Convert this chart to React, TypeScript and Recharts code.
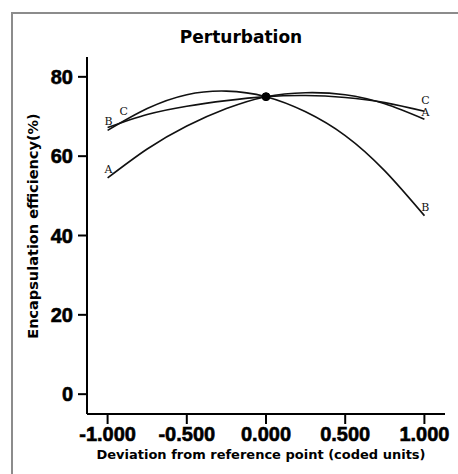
import React from 'react';
import {
  LineChart, Line, XAxis, YAxis, ReferenceDot, Customized,
} from 'recharts';

const xValues = [-1, -0.75, -0.5, -0.25, 0, 0.25, 0.5, 0.75, 1];
const seriesA = [54.5, 61.8, 67.6, 72.0, 75, 76.0, 75.5, 73.2, 69.3];
const seriesB = [66.5, 72.0, 75.5, 76.4, 75, 71.2, 65.2, 56.3, 45.0];
const seriesC = [67.2, 70.5, 72.6, 74.0, 75, 75.3, 74.8, 73.5, 71.3];
const xTicks = [-1, -0.5, 0, 0.5, 1];
const yTicks = [0, 20, 40, 60, 80];
const referencePoint = { x: 0, y: 75 };

const data = xValues.map((x, i) => ({ x, A: seriesA[i], B: seriesB[i], C: seriesC[i] }));

const FONT = '"Liberation Sans", Arial, Helvetica, sans-serif';
const WIDE = '"DejaVu Sans", sans-serif';

const makeLetterLabel = (letter: string, leftDx: number, leftDy: number, rightDx: number, rightDy: number) =>
  (props: any) => {
    const { x, y, index } = props;
    if (index !== 0 && index !== xValues.length - 1) return null;
    const dx = index === 0 ? leftDx : rightDx;
    const dy = index === 0 ? leftDy : rightDy;
    return (
      <text
        key={`${letter}-${index}`}
        x={x + dx}
        y={y + dy}
        textAnchor="middle"
        dominantBaseline="central"
        fontFamily="'DejaVu Serif', serif"
        fontSize={11}
        fill="#111"
      >
        {letter}
      </text>
    );
  };

const Texts = () => (
  <g>
    <text x={241} y={43} textAnchor="middle" fontFamily={WIDE} fontWeight="bold" fontSize={17} fill="#000">
      Perturbation
    </text>
    <text x={261} y={459} textAnchor="middle" fontFamily={WIDE} fontWeight="bold" fontSize={13} fill="#000">
      Deviation from reference point (coded units)
    </text>
    <text
      x={38}
      y={226}
      textAnchor="middle"
      transform="rotate(-90 38 226)"
      fontFamily={WIDE}
      fontWeight="bold"
      fontSize={14.5}
      fill="#000"
    >
      Encapsulation efficiency(%)
    </text>
  </g>
);

const tickStyle = {
  fill: '#000', fontSize: 20, fontWeight: 'bold', fontFamily: FONT, stroke: '#000', strokeWidth: 0.6,
};

export default function App() {
  return (
    <div style={{ position: 'absolute', left: 0, top: 0, width: 458, height: 474, overflow: 'hidden', background: '#fff' }}>
      <div
        style={{
          position: 'absolute', left: 11, top: 12, width: 500, height: 500,
          border: '2px solid #8c8c8c', boxSizing: 'border-box',
        }}
      />
      <div style={{ position: 'absolute', left: 0, top: 0 }}>
        <LineChart width={458} height={474} data={data} margin={{ top: 57, right: 13, bottom: 0, left: 0 }}>
          <XAxis
            dataKey="x"
            type="number"
            domain={[-1.13, 1.13]}
            allowDataOverflow
            ticks={xTicks}
            tickFormatter={(v: number) => v.toFixed(3)}
            height={60}
            tickSize={10}
            tickMargin={3}
            axisLine={{ stroke: '#000', strokeWidth: 2 }}
            tickLine={{ stroke: '#000', strokeWidth: 2 }}
            tick={tickStyle}
          />
          <XAxis
            xAxisId="top"
            dataKey="x"
            type="number"
            domain={[-1.13, 1.13]}
            orientation="top"
            height={0}
            tick={false}
            tickLine={false}
            axisLine={{ stroke: '#000', strokeWidth: 2 }}
          />
          <YAxis
            type="number"
            domain={[-5, 85]}
            allowDataOverflow
            ticks={yTicks}
            width={87}
            tickSize={9}
            tickMargin={5}
            axisLine={{ stroke: '#000', strokeWidth: 2 }}
            tickLine={{ stroke: '#000', strokeWidth: 2 }}
            tick={tickStyle}
          />
          <YAxis
            yAxisId="right"
            orientation="right"
            domain={[-5, 85]}
            width={0}
            tick={false}
            tickLine={false}
            axisLine={{ stroke: '#000', strokeWidth: 2 }}
          />
          <Line
            type="natural"
            dataKey="A"
            stroke="#111"
            strokeWidth={1.6}
            dot={false}
            isAnimationActive={false}
            label={makeLetterLabel('A', 1, -8, 1, -7)}
          />
          <Line
            type="natural"
            dataKey="B"
            stroke="#111"
            strokeWidth={1.6}
            dot={false}
            isAnimationActive={false}
            label={makeLetterLabel('B', 1, -9, 1, -8)}
          />
          <Line
            type="natural"
            dataKey="C"
            stroke="#111"
            strokeWidth={1.6}
            dot={false}
            isAnimationActive={false}
            label={makeLetterLabel('C', 16, -16, 1, -11)}
          />
          <ReferenceDot x={referencePoint.x} y={referencePoint.y} r={4} fill="#000" stroke="#000" />
          <Customized component={Texts} />
        </LineChart>
      </div>
    </div>
  );
}
